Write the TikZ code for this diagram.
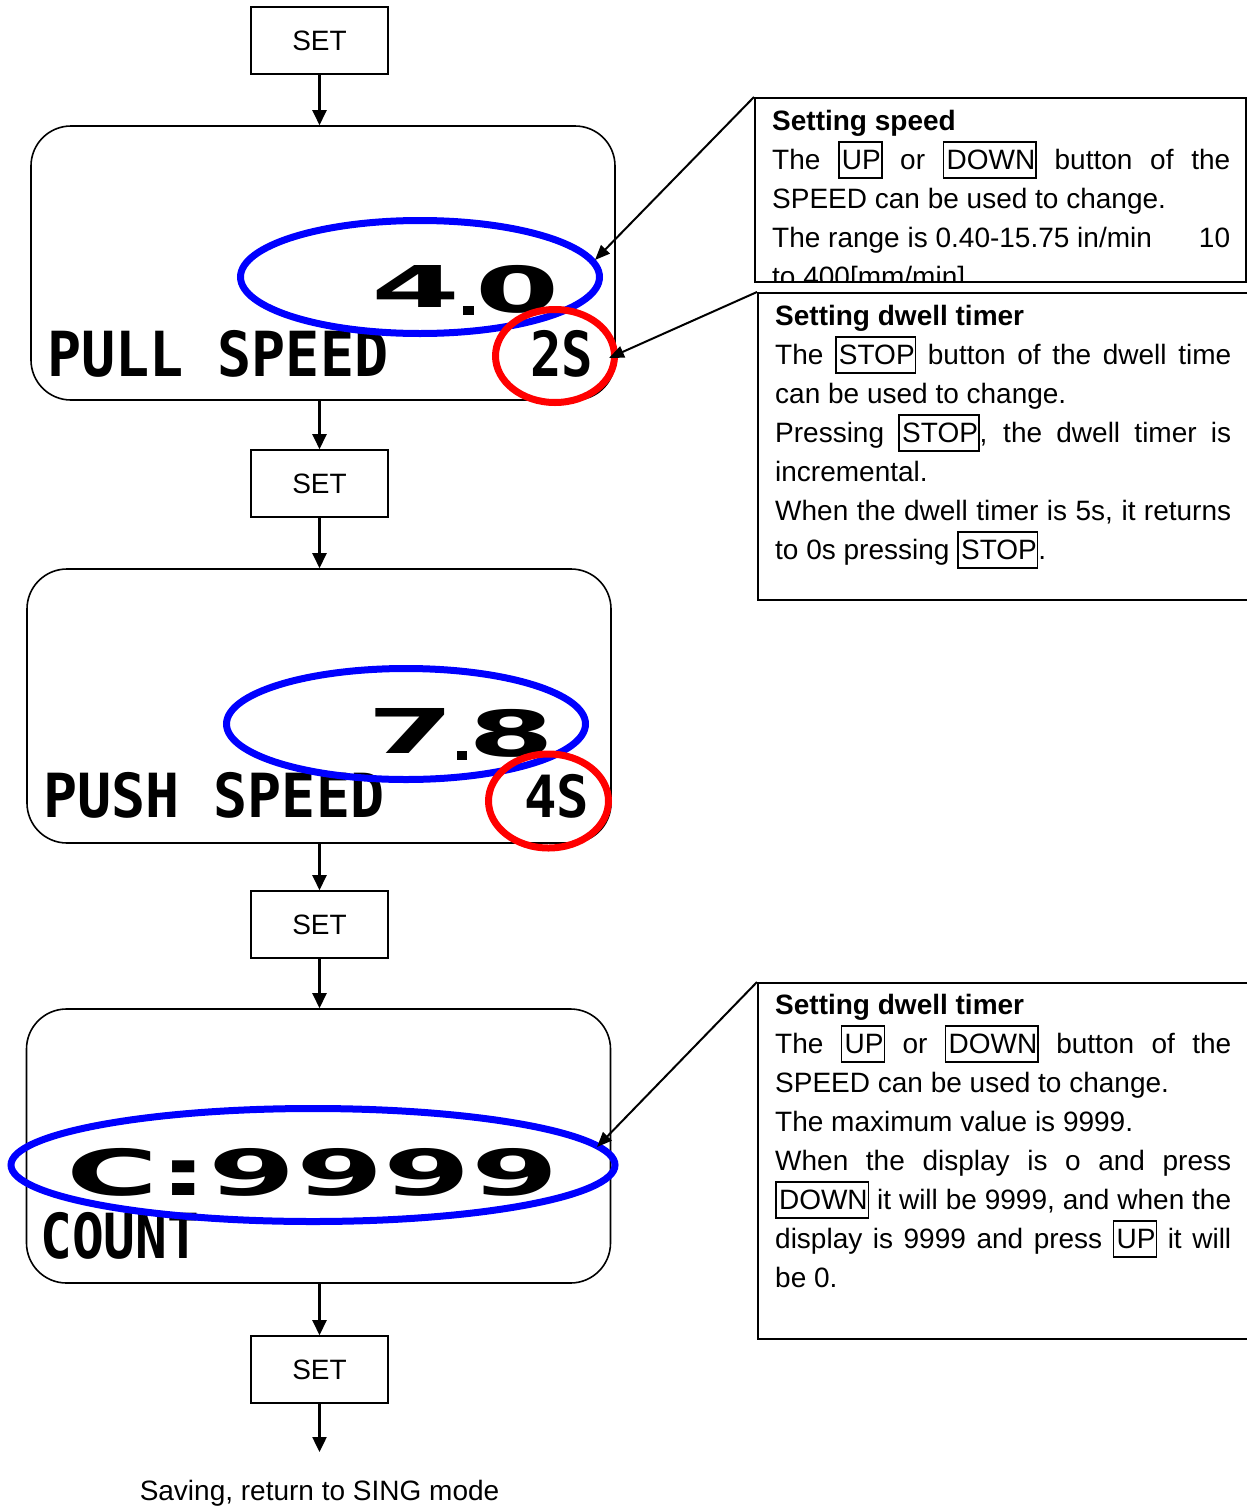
\documentclass[tikz,border=0pt]{standalone}
\usepackage{fontspec}
\usepackage{graphicx}
\setmainfont{Liberation Sans}
\newfontfamily\lcdfont{DejaVu Sans Mono}
\newfontfamily\bigfont{DejaVu Sans}
\usetikzlibrary{arrows.meta}
\newcommand\btn[1]{{\setlength\fboxsep{0pt}\setlength\fboxrule{1.6pt}\fbox{\rule[-0.29em]{0pt}{1.22em}\hspace{0.08em}#1}}}
\newcommand\jline[1]{\makebox[\linewidth][s]{#1}\\}
\newcommand\lline[1]{\makebox[\linewidth][l]{#1}\\}
\newcommand\lcdtxt[3]{\resizebox*{#1}{#2}{\lcdfont\bfseries #3}}
\newcommand\bigtxt[3]{\resizebox*{#1}{#2}{\bigfont\bfseries #3}}
\begin{document}
\begin{tikzpicture}[x=1pt,y=-1pt,
  setbox/.style={draw,line width=1.6pt,minimum width=137pt,minimum height=67pt,inner sep=0pt,font=\fontsize{28}{32}\selectfont},
  lcdbox/.style={draw,line width=1.6pt,rounded corners=40pt,minimum width=584pt,minimum height=274pt,inner sep=0pt},
  callbox/.style={draw,line width=1.6pt,inner sep=0pt,anchor=north west},
  flow/.style={line width=2.4pt,-{Triangle[length=15pt,width=14pt]}},
  callout/.style={line width=2pt,-{Triangle[length=15pt,width=12pt]}},
  blueell/.style={draw=blue,line width=7pt},
  redell/.style={draw=red,line width=7pt},
  lcd/.style={anchor=north west,inner sep=0pt},
  note/.style={anchor=base west,inner sep=0pt}]
\useasboundingbox (0,0) rectangle (1247,1507);

% SET boxes
\node[setbox] (s1) at (319.5,40.5) {SET};
\node[setbox] (s2) at (319.5,483.5) {SET};
\node[setbox] (s3) at (319.5,924.5) {SET};
\node[setbox] (s4) at (319.5,1369.5) {SET};

% displays
\node[lcdbox] (d1) at (323,263) {};
\node[lcdbox] (d2) at (319,706) {};
\node[lcdbox] (d3) at (318.5,1146) {};

% display texts
\node[lcd] (t1a) at (47,330) {\lcdtxt{341pt}{47pt}{PULL SPEED}};
\node[lcd] (t1b) at (530,330) {\lcdtxt{63pt}{47pt}{2S}};
\node[lcd] (t1c) at (371,265) {\bigtxt{89pt}{42pt}{4}};
\node[lcd] (t1d) at (475,265) {\bigtxt{84pt}{48pt}{0}};
\fill (463,306) rectangle (474,315);
\node[lcd] (t2a) at (43,772) {\lcdtxt{341pt}{46pt}{PUSH SPEED}};
\node[lcd] (t2b) at (524,774) {\lcdtxt{65pt}{44pt}{4S}};
\node[lcd] (t2c) at (367,708) {\bigtxt{87pt}{45pt}{7}};
\node[lcd] (t2d) at (468,709) {\bigtxt{86pt}{48pt}{8}};
\fill (457,751) rectangle (467,760);
\node[lcd] (t3a) at (66,1148) {\bigtxt{492pt}{48pt}{C:9999}};
\node[lcd] (t3b) at (40,1212) {\lcdtxt{159pt}{47pt}{COUNT}};

% highlight ellipses
\draw[blueell] (420,277) ellipse [x radius=179.5pt, y radius=56.5pt];
\draw[redell] (555,356) ellipse [x radius=59.5pt, y radius=46.5pt];
\draw[blueell] (406,724) ellipse [x radius=179.5pt, y radius=55.5pt];
\draw[redell] (548.5,801) ellipse [x radius=60pt, y radius=47pt];
\draw[blueell] (313,1165) ellipse [x radius=302pt, y radius=56.5pt];

% flow arrows
\draw[flow] (s1.south) -- (s1.south |- d1.north);
\draw[flow] (s2.north |- d1.south) -- (s2.north);
\draw[flow] (s2.south) -- (s2.south |- d2.north);
\draw[flow] (s3.north |- d2.south) -- (s3.north);
\draw[flow] (s3.south) -- (s3.south |- d3.north);
\draw[flow] (s4.north |- d3.south) -- (s4.north);
\coordinate (endpt) at (319.5,1452);
\draw[flow] (s4.south) -- (endpt);
\node[anchor=base,inner sep=0pt,font=\fontsize{28}{32}\selectfont] (save) at (319.5,1500) {Saving, return to SING mode};

% callout boxes
\node[callbox,minimum width=491pt,minimum height=184pt] (ca) at (754,97) {};
\node[callbox,minimum width=500pt,minimum height=307pt] (cb) at (757,292) {};
\node[callbox,minimum width=500pt,minimum height=356pt] (cc) at (757,982) {};

\coordinate (pa) at (595,260);
\coordinate (pb) at (609,358);
\coordinate (pc) at (597,1147);
\draw[callout] (ca.north west) -- (pa);
\draw[callout] (cb.north west) -- (pb);
\draw[callout] (cc.north west) -- (pc);

% callout texts
\begin{scope}
\clip (754,97) rectangle (1245,280);
\node[note] (na) at (772,130) {\parbox[t]{458pt}{\fontsize{28}{39}\selectfont\setlength\parindent{0pt}%
\lline{\textbf{Setting speed}}
\jline{The \btn{UP} or \btn{DOWN} button of the}
\lline{SPEED can be used to change.}
\lline{The range is 0.40-15.75 in/min\hfill 10}
\lline{to 400[mm/min]}}};
\end{scope}

\node[note] (nb) at (775,325) {\parbox[t]{456pt}{\fontsize{28}{39}\selectfont\setlength\parindent{0pt}%
\lline{\textbf{Setting dwell timer}}
\jline{The \btn{STOP} button of the dwell time}
\lline{can be used to change.}
\jline{Pressing \btn{STOP}, the dwell timer is}
\lline{incremental.}
\jline{When the dwell timer is 5s, it returns}
\lline{to 0s pressing \btn{STOP}.}}};

\node[note] (nc) at (775,1014) {\parbox[t]{456pt}{\fontsize{28}{39}\selectfont\setlength\parindent{0pt}%
\lline{\textbf{Setting dwell timer}}
\jline{The \btn{UP} or \btn{DOWN} button of the}
\lline{SPEED can be used to change.}
\lline{The maximum value is 9999.}
\jline{When the display is o and press}
\jline{\btn{DOWN} it will be 9999, and when the}
\jline{display is 9999 and press \btn{UP} it will}
\lline{be 0.}}};
\end{tikzpicture}
\end{document}
